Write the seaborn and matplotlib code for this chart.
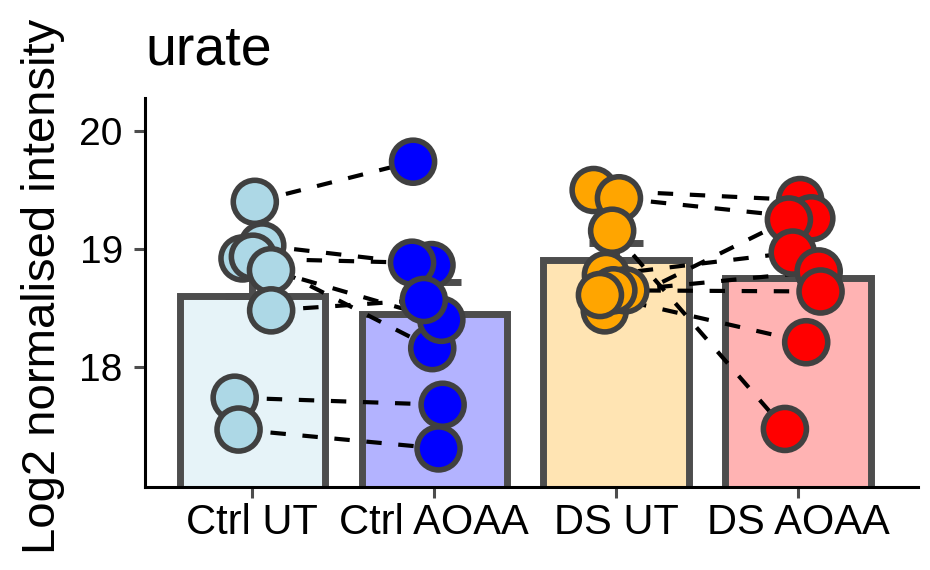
import numpy as np
import pandas as pd
import matplotlib
matplotlib.use('Agg')
import matplotlib.pyplot as plt
import seaborn as sns

# Values (one per subject, same subject order in each group)
groups = ['Ctrl UT', 'Ctrl AOAA', 'DS UT', 'DS AOAA']
ctrl_ut = [19.40, 19.03, 18.92, 18.935, 18.82, 18.48, 17.74, 17.47]
ctrl_aoaa = [19.74, 18.864, 18.884, 18.16, 18.40, 18.568, 17.68, 17.31]
ds_ut = [19.50, 19.43, 18.48, 19.155, 18.78, 18.65, 18.65, 18.61]
ds_aoaa = [19.415, 19.26, 19.25, 17.475, 18.97, 18.81, 18.64, 18.21]

point_colors = ['lightblue', 'blue', 'orange', 'red']
bar_colors = ['#E6F3F8', '#B3B3FF', '#FFE4B3', '#FFB3B3']
edge_grey = '#4D4D4D'

df = pd.DataFrame({
    'group': np.repeat(groups, 8),
    'value': ctrl_ut + ctrl_aoaa + ds_ut + ds_aoaa,
    'subject': list(range(8)) * 4,
})

sns.set_style('ticks')
plt.rcParams['font.family'] = ['Liberation Sans', 'DejaVu Sans']
plt.rcParams['text.color'] = 'black'
plt.rcParams['axes.labelcolor'] = 'black'

fig = plt.figure(figsize=(9.3, 5.7), dpi=100)
ax = fig.add_axes([0.156, 0.1456, 0.8312, 0.6825])

# Mean bars
sns.barplot(data=df, x='group', y='value', order=groups, hue='group',
            hue_order=groups, palette=bar_colors, saturation=1,
            errorbar=None, width=0.8, edgecolor=edge_grey, linewidth=5,
            legend=False, ax=ax, zorder=1)

# Upper standard error bars
stats = df.groupby('group', sort=False)['value'].agg(['mean', 'sem'])
ax.errorbar(range(len(groups)), stats['mean'],
            yerr=[np.zeros(len(groups)), stats['sem']], fmt='none',
            ecolor=edge_grey, elinewidth=5, capsize=19.6, capthick=5,
            zorder=1.5)

# Jittered points
np.random.seed(3)
sns.stripplot(data=df, x='group', y='value', order=groups, hue='group',
              hue_order=groups, palette=point_colors, jitter=0.13,
              size=31, linewidth=4, edgecolor='#404040', legend=False,
              ax=ax, zorder=3)

# Dashed lines joining each subject's paired points
pts = [c.get_offsets() for c in ax.collections[-4:]]
for a, b in [(0, 1), (2, 3)]:
    for i in range(len(pts[a])):
        ax.plot([pts[a][i, 0], pts[b][i, 0]], [pts[a][i, 1], pts[b][i, 1]],
                color='black', lw=3, ls=(0, (3.7, 4.0)), zorder=2)

ax.set_xlim(-0.59, 3.66)
ax.set_ylim(16.983, 20.28)
ax.set_yticks([18, 19, 20])

sns.despine(ax=ax)
for side in ['left', 'bottom']:
    ax.spines[side].set_linewidth(2.2)
    ax.spines[side].set_color('black')

ax.tick_params(axis='both', length=8, width=2.2, color=edge_grey,
               labelcolor='black')
ax.tick_params(axis='x', labelsize=30, pad=3.5)
ax.tick_params(axis='y', labelsize=28, pad=8)

ax.set_xlabel('')
ax.set_ylabel('Log2 normalised intensity', fontsize=34)
ax.yaxis.set_label_coords(-0.1035, 0.515)
ax.set_title('urate', loc='left', fontsize=40, pad=24, color='black')

fig.savefig('out.png', dpi=100)
